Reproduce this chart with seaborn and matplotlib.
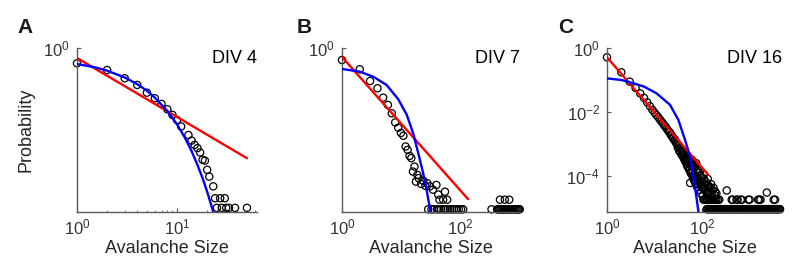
import matplotlib
matplotlib.use("Agg")
import matplotlib.pyplot as plt
import seaborn as sns
from matplotlib.ticker import LogLocator, NullLocator, FixedLocator

sns.set_style("ticks")
plt.rcParams['font.family'] = ['Liberation Sans', 'DejaVu Sans']
plt.rcParams['mathtext.fontset'] = 'custom'
plt.rcParams['mathtext.rm'] = 'Liberation Sans'
plt.rcParams['axes.unicode_minus'] = False

# ---- panel A, DIV 4 ----
size_A = [1, 2, 3, 4, 5, 6, 7, 8, 9, 10, 11, 13, 14, 15, 16, 17, 18, 19, 20, 21,
          23, 24, 25, 27, 28, 30, 31, 33, 38, 50]
prob_A = [0.333, 0.205, 0.113, 0.070, 0.040, 0.0268, 0.0178, 0.0121, 0.0081, 0.0056,
          0.0035, 0.0019, 0.00127, 0.00093, 0.00074, 0.00054, 0.00032, 0.00030, 1.55e-4, 9.5e-5,
          4.7e-5, 2e-5, 1e-5, 2e-5, 1e-5, 2e-5, 1e-5, 1e-5, 1e-5, 1e-5]
pow_x_A = [1, 50]
pow_y_A = [0.487, 3.57e-4]
exp_x_A = [1, 1.5, 2, 3, 4, 5, 6, 8, 10, 12, 14, 16, 18, 20, 22, 23]
exp_y_A = [0.316, 0.25, 0.195, 0.12, 0.074, 0.046, 0.028, 0.0107, 0.0041, 0.00155,
           5.9e-4, 2.2e-4, 8.5e-5, 3.2e-5, 1.2e-5, 7.6e-6]

# ---- panel B, DIV 7 ----
size_B = [1, 2, 3, 4, 5, 6, 7, 8, 9, 10, 11, 12, 13, 14, 15, 16, 17, 18, 19, 20,
          22, 24, 26, 28, 31, 35, 40, 43, 56,
          45, 52, 61, 480, 580, 690,
          29, 33, 36, 41, 44, 48, 53, 57, 62, 68, 74, 80, 88, 96, 105, 114, 345,
          430, 450, 470, 490, 510, 530, 550, 575, 600, 630, 660, 690, 720, 760, 800,
          840, 880, 920, 960, 1000, 1040]
prob_B = [0.42, 0.216, 0.093, 0.055, 0.028, 0.0166, 0.0091, 0.0047, 0.0032, 0.0022,
          0.0018, 8.3e-4, 6.5e-4, 4.2e-4, 3.6e-4, 1.36e-4, 1.95e-4, 6.6e-5, 1.07e-4, 8.5e-5,
          5.6e-5, 7e-5, 4.9e-5, 5.9e-5, 4.7e-5, 3.7e-5, 5.2e-5, 2.6e-5, 3.2e-5,
          1.8e-5, 1.8e-5, 1.8e-5, 1.8e-5, 1.8e-5, 1.8e-5,
          9e-6, 9e-6, 9e-6, 9e-6, 9e-6, 9e-6, 9e-6, 9e-6, 9e-6, 9e-6, 9e-6, 9e-6, 9e-6, 9e-6,
          9e-6, 9e-6, 9e-6,
          9e-6, 9e-6, 9e-6, 9e-6, 9e-6, 9e-6, 9e-6, 9e-6, 9e-6, 9e-6, 9e-6, 9e-6, 9e-6, 9e-6,
          9e-6, 9e-6, 9e-6, 9e-6, 9e-6, 9e-6, 9e-6]
pow_x_B = [1, 138]
pow_y_B = [0.525, 1.87e-5]
exp_x_B = [1, 2, 3.4, 5.7, 9, 12.5, 16.2, 19.7, 23.9, 27.9, 31.9]
exp_y_B = [0.221, 0.182, 0.126, 0.070, 0.025, 0.0083, 0.0021, 5.1e-4, 1.2e-4, 2.9e-5, 7.4e-6]

# ---- panel C, DIV 16 ----
size_C = [1, 2, 3, 4, 5, 6, 7, 8, 9, 10, 11, 12, 13, 14, 15, 16, 17, 18, 19, 20,
          21, 22, 23, 24, 25, 26, 27, 28, 29, 30, 32, 34, 36, 38, 40, 42, 44, 46, 48, 50,
          52, 54, 56, 57, 60, 62, 64, 66, 68, 70, 73, 76, 80, 84, 88, 92, 96, 100, 105, 110,
          116, 122, 128, 135, 142, 150, 160, 170, 185, 200, 330, 2300,
          31, 35, 39, 43, 47, 51, 55, 58, 63, 67, 72, 78, 86, 94, 103, 113, 125, 138,
          33, 37, 41, 45, 49, 53, 59, 61, 65, 69, 71, 75, 79, 82, 90, 98, 108, 118,
          132, 145, 155, 175, 190]
prob_C = [0.513, 0.174, 0.089, 0.056, 0.038, 0.0275, 0.020, 0.0151, 0.0117, 0.0095,
          0.0079, 0.0068, 0.0058, 0.0050, 0.0044, 0.0038, 0.0035, 0.0030, 0.0027, 0.0024,
          0.0023, 0.0019, 0.00186, 0.00158, 0.00151, 0.00132, 0.00135, 0.00112, 0.00107, 9.5e-4,
          8.9e-4, 7.2e-4, 6.9e-4, 5.6e-4, 5.8e-4, 4.5e-4, 4.8e-4, 3.5e-4, 4e-4, 2.8e-4,
          3.3e-4, 2.4e-4, 6e-5, 2.8e-4, 2e-4, 2.5e-4, 1.4e-4, 2e-4, 1.1e-4, 1.8e-4,
          8.9e-5, 1.6e-4, 7.9e-5, 1.26e-4, 6.3e-5, 1e-4, 5e-5, 8.9e-5, 4e-5, 7.9e-5,
          3.5e-5, 6.3e-5, 2.8e-5, 5e-5, 3.2e-5, 4e-5, 2.5e-5, 3.5e-5, 2.5e-5, 2.8e-5,
          3.5e-5, 3e-5,
          7.6e-4, 5.5e-4, 4.2e-4, 3.1e-4, 2.4e-4, 1.9e-4, 1.5e-4, 1.2e-4, 9.5e-5, 7.4e-5,
          6e-5, 4.6e-5, 3.7e-5, 2.9e-5, 2.3e-5, 3.9e-5, 3e-5, 4.5e-5,
          6.0e-4, 4.6e-4, 3.6e-4, 2.8e-4, 2.0e-4, 1.6e-4, 1.3e-4, 3.2e-4, 1.0e-4, 2.2e-4,
          7e-5, 2.5e-4, 5.5e-5, 1.6e-4, 1.4e-4, 4.5e-5, 1.1e-4, 5.5e-5,
          8e-5, 4.5e-5, 5.5e-5, 4.2e-5, 3.2e-5]
row2_C = [107, 112, 118, 124, 130, 137, 145, 153, 160, 170, 180, 190, 200, 215, 230,
          420, 445, 530, 560, 650, 684,
          944, 1000, 1500, 1600, 1700, 3200, 3440]
row1_C = [125, 130, 136, 142, 148, 155, 162, 169, 177, 185, 193, 202, 211, 220, 230,
          241, 252, 263, 275, 287, 300, 314, 328, 343, 358, 374, 391, 409, 427, 446,
          466, 487, 509, 532, 556, 581, 607, 634, 663, 693, 724, 757, 791, 826, 863,
          902, 943, 985, 1030, 1076, 1124, 1175, 1228, 1283, 1341, 1401, 1464, 1530, 1599,
          1671, 1746, 1825, 1907, 1993, 2082, 2176, 2274, 2376, 2483, 2595, 2712, 2834,
          2961, 3095, 3234, 3380, 3532, 3690, 3856, 4030, 4200, 4370]
row2_p_C = 1.8e-5
row1_p_C = 9.1e-6
pow_x_C = [1, 135]
pow_y_C = [0.513, 1.07e-4]
exp_x_C = [1, 2, 3.6, 6, 11.1, 21.2, 31.8, 43.8, 56, 65.6, 75, 84]
exp_y_C = [0.112, 0.10, 0.079, 0.062, 0.038, 0.0166, 0.0056, 0.00133, 4.0e-4, 9.5e-5, 2.5e-5, 7.4e-6]

x_C_all = size_C + row2_C + row1_C
p_C_all = prob_C + [row2_p_C] * len(row2_C) + [row1_p_C] * len(row1_C)

panels = [
    dict(x=size_A, y=prob_A, px=pow_x_A, py=pow_y_A, ex=exp_x_A, ey=exp_y_A,
         xlim=(1, 63), xticks=[1, 10], yticks=[1], minor=True, label="DIV 4", letter="A"),
    dict(x=size_B, y=prob_B, px=pow_x_B, py=pow_y_B, ex=exp_x_B, ey=exp_y_B,
         xlim=(1, 1050), xticks=[1, 100], yticks=[1], minor=False, label="DIV 7", letter="B"),
    dict(x=x_C_all, y=p_C_all, px=pow_x_C, py=pow_y_C, ex=exp_x_C, ey=exp_y_C,
         xlim=(1, 4800), xticks=[1, 100], yticks=[1, 1e-2, 1e-4], minor=False,
         label="DIV 16", letter="C"),
]

W, H = 800, 276
lefts = [77, 342, 607]
widths = [180, 178, 175]
top, bottom = 48, 212
letter_x = [17, 297, 558]

fig = plt.figure(figsize=(W / 100, H / 100), dpi=100)
spine_col = "#5a5a5a"
text_col = "#262626"

for i, p in enumerate(panels):
    ax = fig.add_axes([lefts[i] / W, 1 - bottom / H, widths[i] / W, (bottom - top) / H])
    ax.set_xscale("log")
    ax.set_yscale("log")
    sns.scatterplot(x=p["x"], y=p["y"], ax=ax, marker="o", s=27, facecolor="none",
                    edgecolor="black", linewidth=0.9, legend=False, zorder=2, clip_on=False)
    ax.plot(p["px"], p["py"], color=(1, 0, 0), lw=1.7, zorder=3)
    ax.plot(p["ex"], p["ey"], color=(0, 0, 1), lw=1.7, zorder=4)
    ax.set_xlim(*p["xlim"])
    ax.set_ylim(10 ** -5.13, 1)
    ax.xaxis.set_major_locator(FixedLocator(p["xticks"]))
    ax.yaxis.set_major_locator(FixedLocator(p["yticks"]))
    if p["minor"]:
        ax.xaxis.set_minor_locator(LogLocator(base=10, subs=range(2, 10)))
    else:
        ax.xaxis.set_minor_locator(NullLocator())
    ax.yaxis.set_minor_locator(NullLocator())
    sns.despine(ax=ax)
    for s in ["left", "bottom"]:
        ax.spines[s].set_color(spine_col)
        ax.spines[s].set_linewidth(1.0)
    ax.tick_params(which="major", direction="in", length=3, width=0.8, color=spine_col,
                   labelsize=12, labelcolor="#333333")
    ax.tick_params(axis="x", which="major", pad=4)
    ax.tick_params(axis="y", which="major", pad=5)
    ax.tick_params(which="minor", direction="in", length=1.8, width=0.6, color=spine_col)
    ax.set_xlabel("Avalanche Size", fontsize=13, color=text_col, labelpad=2)
    if i == 0:
        ax.set_ylabel("Probability", fontsize=13, color=text_col, labelpad=6)
    ax.text(1.0, 0.985, p["label"], transform=ax.transAxes, ha="right", va="top",
            fontsize=13, color="black")
    fig.text(letter_x[i] / W, 1 - 33 / H, p["letter"], fontsize=15, fontweight="bold",
             color="#1a1a1a", ha="left", va="baseline")

fig.savefig("out.png", dpi=100)
